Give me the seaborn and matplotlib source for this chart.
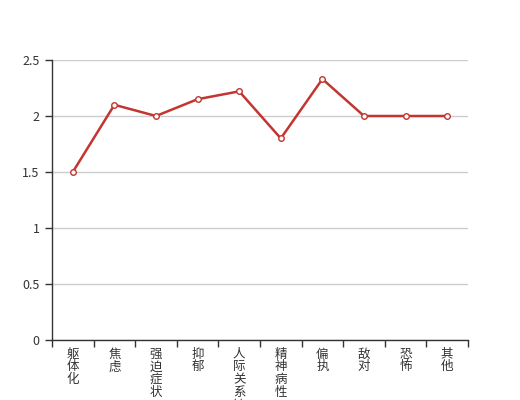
import matplotlib
matplotlib.use('Agg')
import matplotlib.pyplot as plt
import seaborn as sns
import pandas as pd

# data
categories = ['躯体化', '焦虑', '强迫症状', '抑郁', '人际关系敏感', '精神病性', '偏执', '敌对', '恐怖', '其他']
scores = [1.5, 2.1, 2.0, 2.15, 2.22, 1.8, 2.33, 2.0, 2.0, 2.0]
y_ticks = [0, 0.5, 1, 1.5, 2, 2.5]
y_tick_labels = ['0', '0.5', '1', '1.5', '2', '2.5']

sns.set_style('white')
plt.rcParams['font.family'] = ['Noto Sans CJK SC', 'DejaVu Sans']

df = pd.DataFrame({'pos': range(len(categories)), 'score': scores})

fig = plt.figure(figsize=(5.2, 4.0), dpi=100)
ax = fig.add_axes([0.1, 0.15, 0.8, 0.7])

sns.lineplot(data=df, x='pos', y='score', ax=ax, color='#c23531', linewidth=1.8,
             marker='o', markersize=4, markerfacecolor='white',
             markeredgecolor='#c23531', markeredgewidth=1)

ax.set_xlim(-0.5, len(categories) - 0.5)
ax.set_ylim(0, 2.5)
ax.set_yticks(y_ticks)
ax.set_yticklabels(y_tick_labels)
ax.grid(axis='y', color='#cccccc', linewidth=1)
ax.set_axisbelow(True)

# category boundaries as ticks, labels at centres
ax.set_xticks([i - 0.5 for i in range(len(categories) + 1)])
ax.set_xticklabels([])
ax.set_xticks(range(len(categories)), minor=True)
ax.set_xticklabels(['\n'.join(c) for c in categories], minor=True, linespacing=0.97)
ax.tick_params(axis='x', which='minor', length=0, pad=5.5, labelsize=9, labelcolor='#333333')
ax.tick_params(axis='x', which='major', length=5, width=1, color='#333333', direction='out')
ax.tick_params(axis='y', length=5, width=1, color='#333333', direction='out', labelsize=9,
               labelcolor='#333333', pad=4)
ax.xaxis.set_ticks_position('bottom')
ax.yaxis.set_ticks_position('left')
for lab in ax.get_xticklabels(minor=True):
    lab.set_verticalalignment('top')

for s in ['top', 'right']:
    ax.spines[s].set_visible(False)
for s in ['left', 'bottom']:
    ax.spines[s].set_color('#333333')
    ax.spines[s].set_linewidth(1)

ax.set_xlabel('')
ax.set_ylabel('')
fig.savefig('out.png', dpi=100)
